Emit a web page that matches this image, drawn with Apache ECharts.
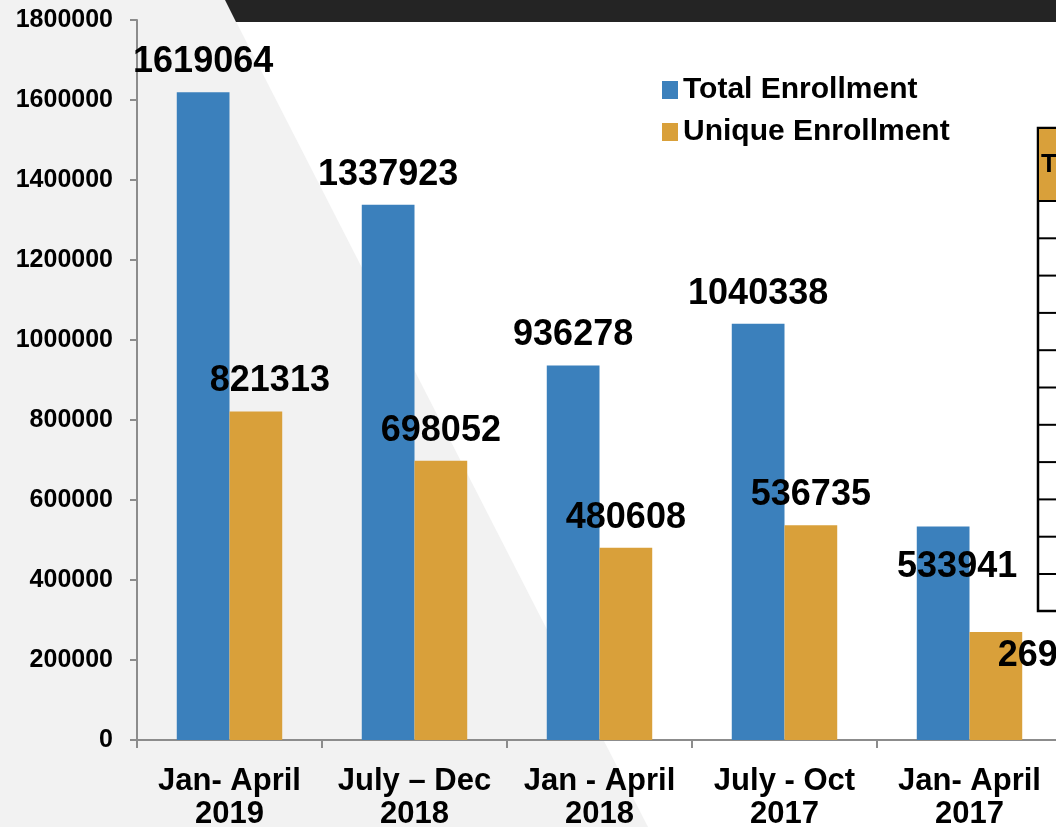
<!DOCTYPE html>
<html>
<head>
    <meta charset="utf-8">
    <style>
        html, body { margin: 0; padding: 0; background: #fff; overflow: hidden; }
    </style>
</head>
<body>

<!-- chart is a bit wider than the window: the source image crops the last category -->
<div id="main" style="width: 1070px;height:827px;"></div>
<script src="https://cdn.jsdelivr.net/npm/echarts@6/dist/echarts.min.js"></script>
<script type="text/javascript">
    var categories = ['Jan- April\n2019', 'July \u2013 Dec\n2018', 'Jan - April\n2018', 'July - Oct\n2017', 'Jan- April\n2017'];
    var totalEnrollment = [1619064, 1337923, 936278, 1040338, 533941];
    var uniqueEnrollment = [821313, 698052, 480608, 536735, 269800];
    var seriesNames = ['Total Enrollment', 'Unique Enrollment'];
    var yTicks = { min: 0, max: 1800000, interval: 200000 };

    var FONT = '"Liberation Sans", Arial, sans-serif';
    var BLUE = '#3b80bc';
    var ORANGE = '#d9a03a';

    // label tweaks: a couple of labels in the source sit off the bar top
    function makeData(values, idx) {
        return values.map(function (v, i) {
            var d = { value: v };
            if (idx === 1 && i === 0) {
                d.label = { offset: [14, 0] };
            }
            if (i === 4) {
                d.label = idx === 0
                    ? { position: 'insideTop', distance: 4, offset: [14, 19] }
                    : { position: 'insideTop', distance: 4, offset: [62, 2] };
            }
            return d;
        });
    }

    // table rows at right edge (decoration, partly cut off)
    var tableLines = [];
    for (var r = 1; r <= 10; r++) {
        var yy = 201 + r * 37.3;
        tableLines.push({
            type: 'line', z: 5,
            shape: { x1: 1038, y1: yy, x2: 1070, y2: yy },
            style: { stroke: '#000', lineWidth: 2 }
        });
    }

    var option = {
        animation: false,
        backgroundColor: '#ffffff',
        textStyle: { fontFamily: FONT },
        graphic: [
            {
                type: 'polygon', z: -10,
                shape: { points: [[0, 0], [225, 0], [648, 827], [0, 827]] },
                style: { fill: '#f2f2f2' }
            },
            {
                type: 'polygon', z: -10,
                shape: { points: [[225, 0], [1070, 0], [1070, 22], [236, 22]] },
                style: { fill: '#242424' }
            },
            {
                type: 'rect', z: 5,
                shape: { x: 1038, y: 128, width: 50, height: 483 },
                style: { fill: '#fff', stroke: '#000', lineWidth: 2.5 }
            },
            {
                type: 'rect', z: 5,
                shape: { x: 1039, y: 129, width: 50, height: 72 },
                style: { fill: ORANGE }
            },
            {
                type: 'line', z: 5,
                shape: { x1: 1038, y1: 201, x2: 1070, y2: 201 },
                style: { stroke: '#000', lineWidth: 2 }
            },
            {
                type: 'text', z: 6,
                x: 1041, y: 152,
                style: { text: 'T', fill: '#000', font: 'bold 26px ' + FONT }
            }
        ].concat(tableLines),
        legend: {
            data: seriesNames,
            orient: 'vertical',
            left: 657,
            top: 70,
            itemWidth: 16,
            itemHeight: 18,
            itemGap: 12,
            icon: 'rect',
            textStyle: { fontSize: 30, fontWeight: 'bold', color: '#000', fontFamily: FONT }
        },
        grid: {
            left: 137,
            top: 20,
            width: 925,
            height: 720,
            containLabel: false,
            outerBoundsMode: 'none'
        },
        xAxis: {
            type: 'category',
            data: categories,
            axisLine: { lineStyle: { color: '#8c8c8c', width: 2 } },
            axisTick: { show: true, length: 8, lineStyle: { color: '#8c8c8c', width: 2 } },
            axisLabel: {
                interval: 0,
                margin: 25,
                fontSize: 31,
                lineHeight: 33,
                fontWeight: 'bold',
                color: '#000',
                fontFamily: FONT
            }
        },
        yAxis: {
            type: 'value',
            min: yTicks.min,
            max: yTicks.max,
            interval: yTicks.interval,
            splitLine: { show: false },
            axisLine: { show: true, lineStyle: { color: '#8c8c8c', width: 2 } },
            axisTick: { show: true, length: 7, lineStyle: { color: '#8c8c8c', width: 2 } },
            axisLabel: {
                margin: 24,
                fontSize: 25,
                fontWeight: 'bold',
                color: '#000',
                fontFamily: FONT,
                formatter: function (v) { return String(v); }
            }
        },
        series: [
            {
                name: seriesNames[0],
                type: 'bar',
                barGap: '0%',
                barCategoryGap: '43%',
                itemStyle: { color: BLUE },
                label: {
                    show: true, position: 'top', distance: 12,
                    fontSize: 36, fontWeight: 'bold', color: '#000', fontFamily: FONT
                },
                data: makeData(totalEnrollment, 0)
            },
            {
                name: seriesNames[1],
                type: 'bar',
                itemStyle: { color: ORANGE },
                label: {
                    show: true, position: 'top', distance: 12,
                    fontSize: 36, fontWeight: 'bold', color: '#000', fontFamily: FONT
                },
                data: makeData(uniqueEnrollment, 1)
            }
        ]
    };

    var myChart = echarts.init(document.getElementById('main'));
    myChart.setOption(option);
</script>
</body>
</html>
